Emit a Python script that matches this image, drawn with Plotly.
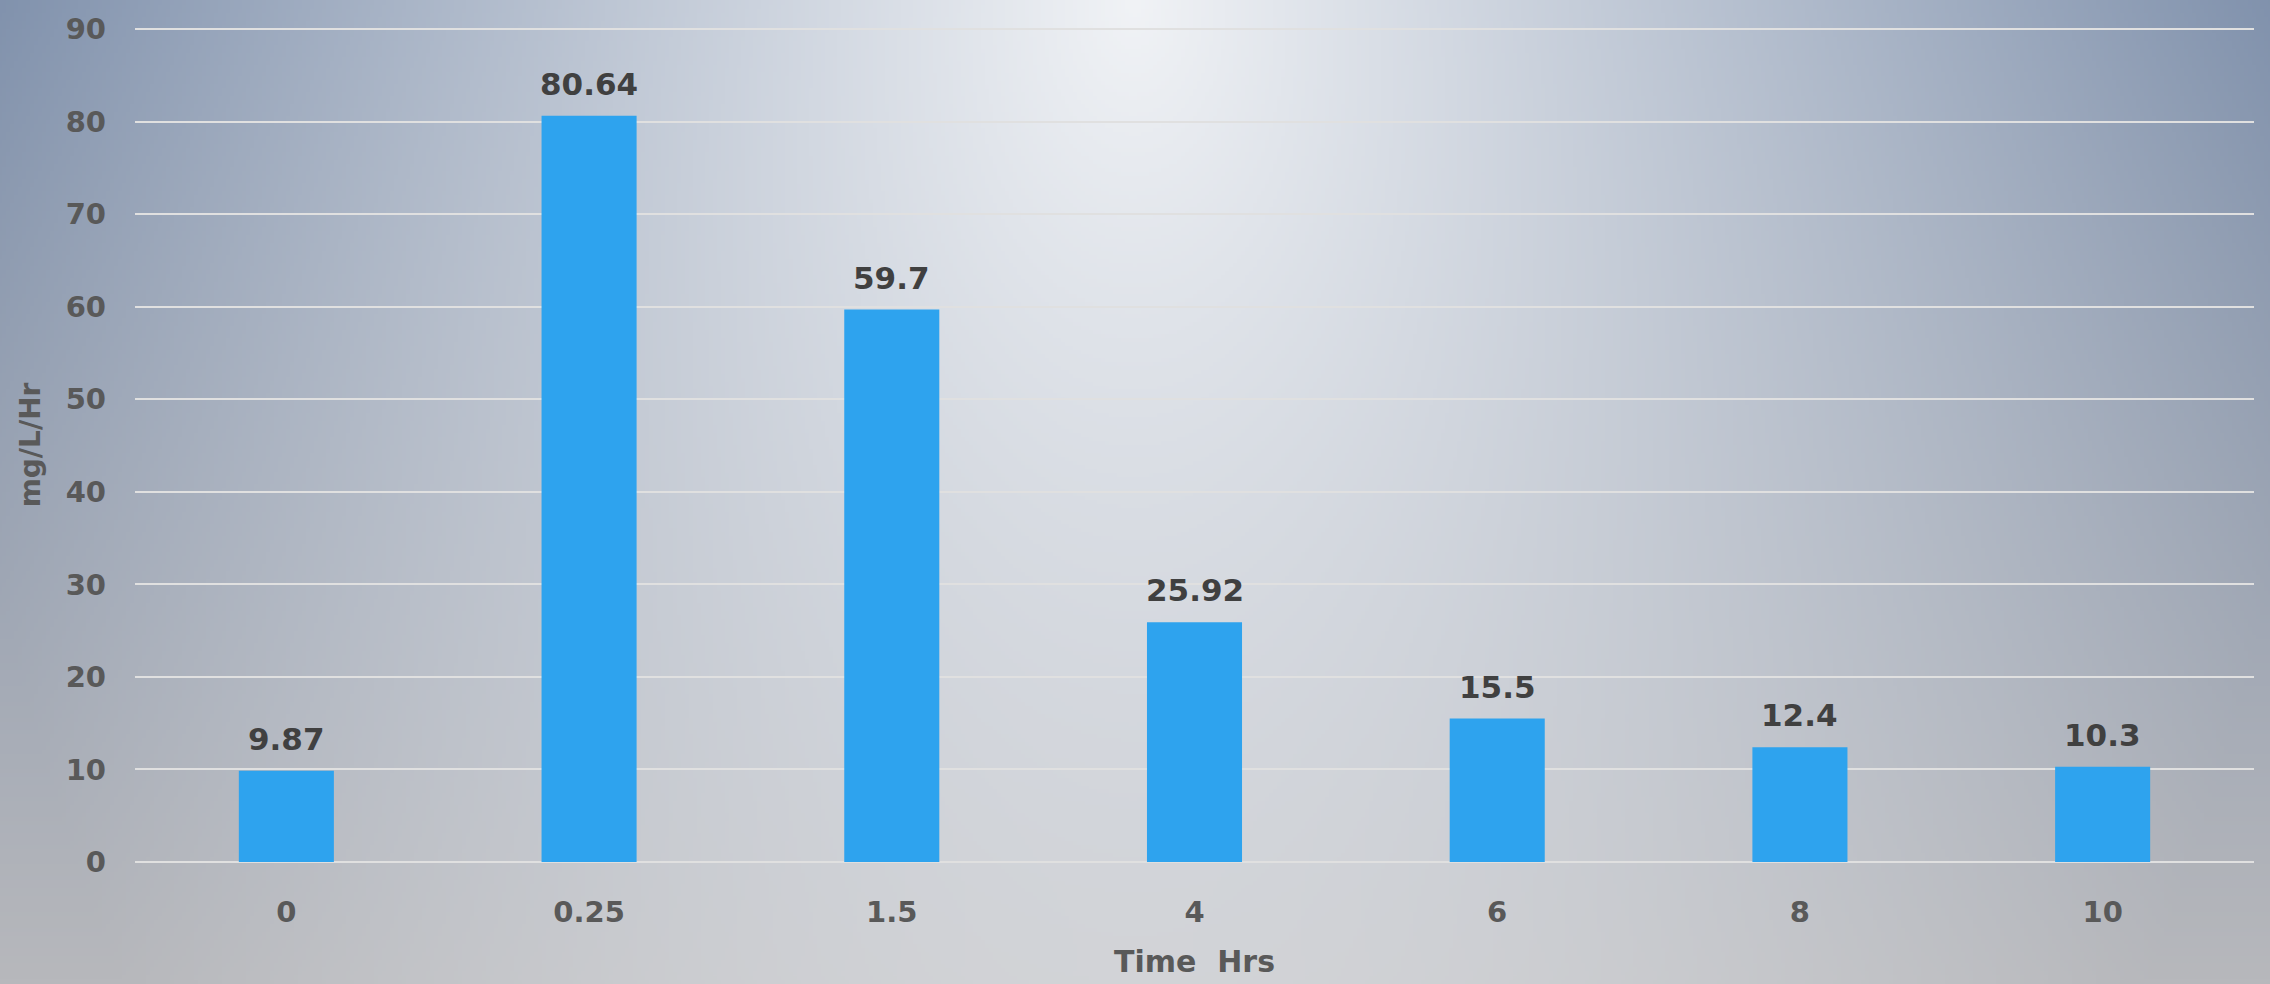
import base64
import struct
import zlib

import numpy as np
import plotly.graph_objects as go

# Sampling times (hours) and measured rate values
times = ["0", "0.25", "1.5", "4", "6", "8", "10"]
rates = [9.87, 80.64, 59.7, 25.92, 15.5, 12.4, 10.3]
rate_labels = ["9.87", "80.64", "59.7", "25.92", "15.5", "12.4", "10.3"]
y_ticks = [0, 10, 20, 30, 40, 50, 60, 70, 80, 90]

W, H = 2270, 984
M_L, M_R, M_T, M_B = 135, 16, 25, 120
PW, PH = W - M_L - M_R, H - M_T - M_B


def png_data_uri(rgb):
    """Encode an HxWx3 uint8 array as a PNG data URI."""
    h, w, _ = rgb.shape
    raw = b"".join(b"\x00" + rgb[i].tobytes() for i in range(h))

    def chunk(tag, data):
        c = struct.pack(">I", len(data)) + tag + data
        return c + struct.pack(">I", zlib.crc32(tag + data) & 0xFFFFFFFF)

    png = b"\x89PNG\r\n\x1a\n"
    png += chunk(b"IHDR", struct.pack(">IIBBBBB", w, h, 8, 2, 0, 0, 0))
    png += chunk(b"IDAT", zlib.compress(raw, 9))
    png += chunk(b"IEND", b"")
    return "data:image/png;base64," + base64.b64encode(png).decode()


# Backdrop: blue-grey to grey vertical wash with a soft light spot at top centre
EXT = 8  # draw the backdrop a little past each figure edge
s = 4
BW, BH = W + 2 * EXT, H + 2 * EXT
gw, gh = BW // s + 1, BH // s + 1
xs = (np.arange(gw) + 0.5) * s - EXT
ys = (np.arange(gh) + 0.5) * s - EXT
X, Y = np.meshgrid(xs, ys)
top = np.array([123, 141, 169], float)
bottom = np.array([183, 184, 188], float)
light = np.array([241, 243, 246], float)
t = (np.clip(Y, 0, H) / H)[..., None]
base = top * (1 - t) + bottom * t
r = np.sqrt(((X - 1135) / 1200.0) ** 2 + (np.clip(Y, 0, None) / 1850.0) ** 2)
w = np.clip(1 - r, 0, 1)[..., None]
img = base * (1 - w) + light * w
bg_uri = png_data_uri(np.clip(img, 0, 255).astype(np.uint8))

FONT = "DejaVu Sans"

fig = go.Figure(
    go.Bar(
        x=times,
        y=rates,
        marker=dict(color="#2ea3ee", line=dict(width=0)),
        hoverinfo="x+y",
    )
)

# value labels above each bar (category index positions on the x axis)
for i, (v, lbl) in enumerate(zip(rates, rate_labels)):
    fig.add_annotation(
        x=i, y=v, text=f"<b>{lbl}</b>", showarrow=False,
        yanchor="bottom", yshift=12,
        font=dict(family=FONT, size=31, color="#404040"),
    )

fig.add_layout_image(
    source=bg_uri, xref="paper", yref="paper",
    x=-(M_L + EXT) / PW, y=1 + (M_T + EXT) / PH,
    sizex=BW / PW, sizey=BH / PH,
    xanchor="left", yanchor="top", sizing="stretch", layer="below",
)

fig.update_layout(
    width=W, height=H,
    margin=dict(l=M_L, r=M_R, t=M_T, b=M_B, pad=0),
    paper_bgcolor="#b8bcc4",
    plot_bgcolor="rgba(0,0,0,0)",
    bargap=0.686,
    showlegend=False,
    font=dict(family=FONT, color="#595959"),
    xaxis=dict(
        type="category",
        range=[-0.5, len(times) - 0.5],
        showgrid=False, showline=False, zeroline=False, ticks="",
        tickfont=dict(family=FONT, size=29, color="#595959", weight="bold"),
        ticklabelstandoff=30,
        title=dict(text="<b>Time  Hrs</b>", standoff=22,
                   font=dict(family=FONT, size=30, color="#595959")),
    ),
    yaxis=dict(
        range=[0, 90.12], tickvals=y_ticks,
        showgrid=True, gridcolor="#e0e0e0", gridwidth=2,
        zeroline=True, zerolinecolor="#e0e0e0", zerolinewidth=2,
        showline=False, ticks="",
        tickfont=dict(family=FONT, size=29, color="#595959", weight="bold"),
        ticklabelstandoff=28,
        title=dict(text="<b>mg/L/Hr</b>", standoff=16,
                   font=dict(family=FONT, size=28, color="#595959")),
    ),
)

fig.write_html("out.html")
